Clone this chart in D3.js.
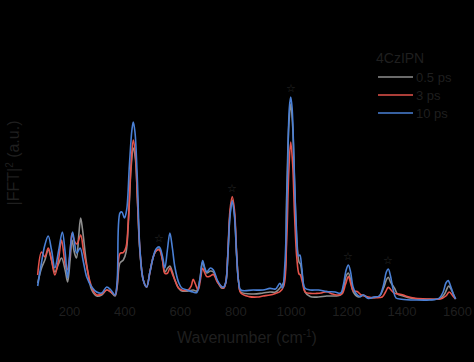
<!DOCTYPE html>
<html>
<head>
<meta charset="utf-8">
<script src="https://cdn.jsdelivr.net/npm/d3@7"></script>
<style>
  html, body { margin: 0; padding: 0; background: #000; }
  svg { display: block; }
  text { font-family: "Liberation Sans", Arial, sans-serif; }
</style>
</head>
<body>
<div id="chart"></div>
<script>
// ---- data (wavenumber cm^-1, |FFT|^2 a.u.) ----
const xTicks = [200, 400, 600, 800, 1000, 1200, 1400, 1600];
const seriesNames = ["0.5 ps", "3 ps", "10 ps"];
const seriesColors = ["#8e8e8e", "#e5534b", "#4a80d6"];
const legendTitle = "4CzIPN";
const starWavenumbers = [526, 789, 1000, 1208, 1352];

const trace05ps = [[87,.085],[101,.16],[113,.2],[125,.25],[137,.2],[149,.14],[162,.18],[173,.21],[186,.15],[195,.09],[204,.2],[211,.30],[219,.24],[227,.21],[235,.32],[242,.41],[249,.35],[264,.175],[282,.05],[300,.02],[318,.025],[336,.05],[351,.04],[366,.02],[374,.07],[384,.185],[396,.20],[406,.24],[414,.38],[424,.66],[432,.76],[440,.70],[447,.50],[456,.24],[468,.10],[480,.065],[492,.14],[504,.215],[514,.245],[526,.255],[537,.205],[546,.14],[556,.16],[564,.17],[573,.14],[582,.10],[595,.06],[607,.045],[630,.045],[648,.05],[661,.045],[672,.10],[682,.19],[690,.155],[697,.135],[710,.145],[721,.14],[735,.095],[751,.06],[758,.06],[766,.09],[773,.22],[781,.43],[789,.50],[797,.43],[805,.22],[812,.09],[820,.04],[865,.03],[900,.035],[925,.04],[945,.04],[961,.06],[975,.09],[985,.5],[993,.87],[1000,.98],[1007,.87],[1014,.58],[1022,.30],[1030,.19],[1035,.18],[1042,.12],[1052,.04],[1070,.017],[1100,.015],[1130,.02],[1160,.02],[1180,.025],[1192,.07],[1200,.12],[1208,.135],[1216,.10],[1226,.04],[1245,.015],[1262,.025],[1280,.01],[1300,.012],[1320,.02],[1335,.06],[1345,.10],[1352,.114],[1360,.09],[1375,.058],[1385,.03],[1406,.02],[1430,.01],[1460,.005],[1500,.003],[1540,.008],[1555,.03],[1565,.06],[1570,.07],[1580,.05],[1590,.02],[1595,.005]];

const trace3ps = [[87,.125],[101,.24],[113,.215],[125,.26],[137,.2],[149,.125],[162,.2],[173,.30],[186,.18],[193,.15],[203,.22],[211,.333],[221,.29],[229,.28],[242,.325],[252,.25],[264,.167],[276,.09],[288,.045],[300,.025],[318,.03],[336,.05],[351,.04],[366,.025],[374,.08],[384,.233],[396,.237],[406,.265],[414,.4],[424,.68],[432,.80],[440,.72],[447,.5],[456,.25],[468,.10],[480,.065],[492,.14],[504,.215],[514,.245],[526,.25],[537,.2],[546,.133],[556,.135],[564,.16],[573,.13],[582,.10],[595,.06],[607,.05],[630,.05],[641,.07],[648,.104],[656,.08],[666,.05],[674,.10],[682,.158],[690,.135],[697,.117],[710,.12],[721,.128],[735,.09],[751,.065],[758,.06],[766,.09],[773,.23],[781,.45],[789,.517],[797,.45],[805,.23],[812,.09],[820,.035],[850,.017],[880,.015],[900,.02],[925,.025],[945,.033],[961,.042],[975,.07],[985,.28],[993,.64],[1000,.79],[1007,.68],[1014,.42],[1022,.21],[1030,.13],[1035,.125],[1042,.09],[1052,.04],[1070,.033],[1093,.033],[1110,.035],[1130,.042],[1150,.03],[1166,.025],[1185,.03],[1198,.08],[1208,.117],[1217,.08],[1226,.045],[1240,.042],[1255,.025],[1280,.015],[1300,.012],[1330,.015],[1342,.04],[1352,.063],[1362,.05],[1375,.033],[1390,.03],[1406,.025],[1420,.017],[1450,.008],[1500,.005],[1540,.005],[1560,.02],[1572,.04],[1585,.02],[1595,.005]];

const trace10ps = [[87,.07],[100,.18],[112,.27],[125,.32],[137,.25],[149,.16],[163,.25],[176,.34],[186,.24],[195,.11],[204,.25],[213,.34],[220,.285],[228,.235],[240,.26],[252,.19],[264,.115],[282,.065],[300,.04],[318,.035],[336,.065],[351,.05],[366,.025],[374,.10],[384,.435],[391,.44],[400,.41],[408,.45],[418,.675],[427,.85],[432,.89],[438,.84],[446,.625],[456,.25],[468,.10],[480,.065],[492,.14],[504,.215],[514,.255],[526,.265],[537,.22],[546,.16],[555,.25],[564,.335],[573,.26],[582,.165],[595,.09],[607,.06],[630,.048],[648,.04],[661,.037],[672,.10],[682,.197],[690,.16],[697,.14],[710,.16],[721,.15],[735,.10],[751,.067],[758,.065],[766,.09],[773,.22],[781,.42],[789,.495],[797,.42],[805,.22],[812,.09],[820,.05],[865,.05],[900,.05],[925,.058],[945,.055],[961,.083],[970,.06],[979,.18],[988,.6],[995,.96],[1000,1.015],[1005,.96],[1012,.68],[1020,.37],[1028,.22],[1033,.225],[1040,.16],[1051,.06],[1070,.05],[1100,.05],[1130,.042],[1160,.04],[1180,.035],[1190,.075],[1200,.15],[1208,.175],[1216,.14],[1225,.065],[1235,.034],[1250,.017],[1262,.025],[1280,.008],[1300,.015],[1320,.02],[1335,.075],[1345,.14],[1352,.155],[1360,.12],[1370,.05],[1380,.01],[1400,.004],[1450,0],[1500,0],[1535,.008],[1550,.04],[1560,.085],[1568,.097],[1578,.065],[1588,.025],[1595,.005]];

const allTraces = [trace05ps, trace3ps, trace10ps];

// ---- chart ----
const W = 474, H = 362;
const textColor = "#1f1f1f";
const svg = d3.select("#chart").append("svg").attr("width", W).attr("height", H)
  .style("background", "#000");

const x = d3.scaleLinear().domain([200, 1600]).range([69, 457]);
const y = d3.scaleLinear().domain([0, 1]).range([300, 100]);

// axes (black lines on black background, dark text)
const xAxis = svg.append("g").attr("transform", "translate(0,305)")
  .call(d3.axisBottom(x).tickValues(xTicks).tickSize(0).tickPadding(2).tickFormat(d3.format("d")));
xAxis.select(".domain").attr("stroke", "#000");
xAxis.selectAll("text").attr("fill", textColor).style("font-size", "13px")
  .attr("font-family", "'Liberation Sans', Arial, sans-serif");

const xTitle = svg.append("text").attr("x", 247).attr("y", 343).attr("text-anchor", "middle")
  .attr("fill", textColor).style("font-size", "16px");
xTitle.append("tspan").text("Wavenumber (cm");
xTitle.append("tspan").attr("dy", -6).style("font-size", "10px").text("-1");
xTitle.append("tspan").attr("dy", 6).text(")");

const yTitle = svg.append("text").attr("transform", "translate(19,163) rotate(-90)")
  .attr("text-anchor", "middle").attr("fill", textColor).style("font-size", "16px");
yTitle.append("tspan").text("|FFT|");
yTitle.append("tspan").attr("dy", -6).style("font-size", "10px").text("2");
yTitle.append("tspan").attr("dy", 6).text(" (a.u.)");

// lines
const line = d3.line().x(d => x(d[0])).y(d => y(d[1])).curve(d3.curveCatmullRom.alpha(0.5));
svg.append("g").selectAll("path").data(allTraces).join("path")
  .attr("d", line).attr("fill", "none")
  .attr("stroke", (d, i) => seriesColors[i]).attr("stroke-width", 1.6)
  .attr("stroke-linejoin", "round");

// stars above peaks
function valueAt(tr, w) {
  const i = d3.bisector(d => d[0]).left(tr, w);
  if (i <= 0) return tr[0][1];
  if (i >= tr.length) return tr[tr.length - 1][1];
  const a = tr[i - 1], b = tr[i];
  return a[1] + (b[1] - a[1]) * (w - a[0]) / (b[0] - a[0]);
}
svg.append("g").selectAll("text").data(starWavenumbers).join("text")
  .attr("x", d => x(d)).attr("y", d => y(d3.max(allTraces, t => valueAt(t, d))) - 5)
  .attr("text-anchor", "middle").attr("fill", "#2a2a2a").style("font-size", "11px")
  .attr("font-family", "'DejaVu Sans', sans-serif")
  .text("☆");

// legend
const lg = svg.append("g");
lg.append("text").attr("x", 376).attr("y", 63).attr("fill", textColor)
  .style("font-size", "14px").text(legendTitle);
seriesNames.forEach((name, i) => {
  const yy = 77 + i * 18;
  lg.append("line").attr("x1", 378).attr("x2", 413).attr("y1", yy).attr("y2", yy)
    .attr("stroke", seriesColors[i]).attr("stroke-width", 1.6);
  lg.append("text").attr("x", 416).attr("y", yy + 5).attr("fill", textColor)
    .style("font-size", "13px").text(name);
});
</script>
</body>
</html>
